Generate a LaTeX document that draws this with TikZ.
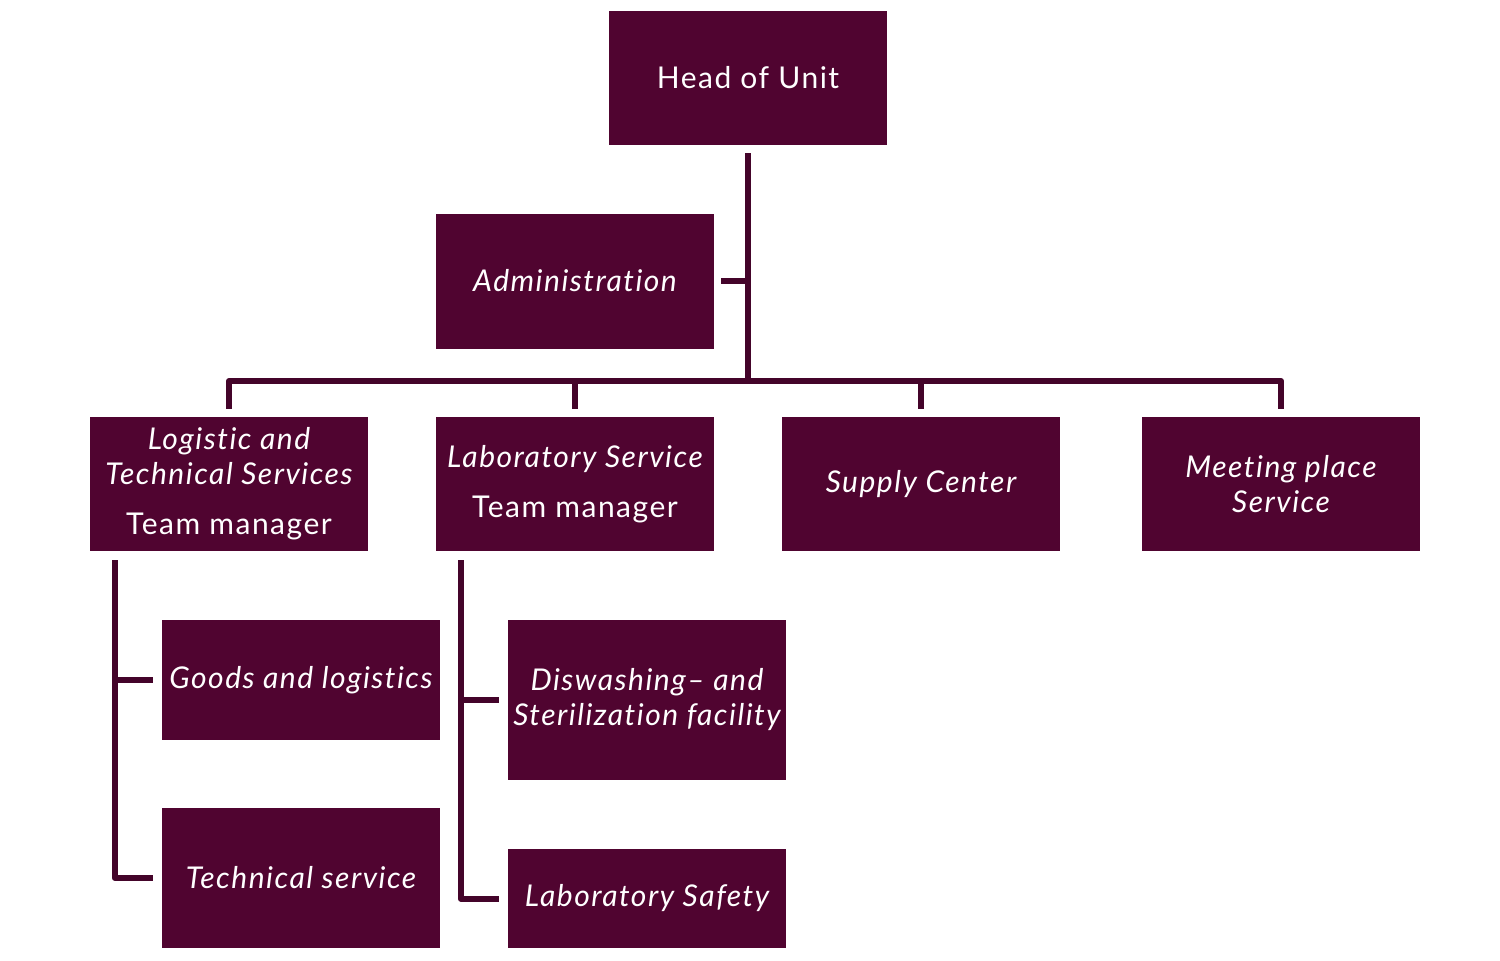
\documentclass[tikz,border=0pt]{standalone}
\usepackage{fontspec}
\setmainfont{Lato}[LetterSpace=5, Ligatures={NoCommon}]
\definecolor{boxc}{HTML}{500430}
\definecolor{linec}{HTML}{44042A}
\tikzset{
  unitbox/.style={fill=boxc, draw=none, text=white, inner sep=0pt, minimum width=278pt, align=center,
    font=\fontsize{30}{35}\selectfont},
  conn/.style={draw=linec, line width=6pt, line join=round, line cap=butt}
}
\begin{document}
\begin{tikzpicture}[x=1pt,y=-1pt]
\useasboundingbox[fill=white] (0,0) rectangle (1500,961);
% boxes
\node[unitbox, minimum height=134pt] (head) at (748,78) {Head of Unit};
\node[unitbox, minimum height=135pt] (admin) at (575,281) {\itshape Administration};
\node[unitbox, minimum height=134pt] (log) at (229,484) {\itshape Logistic and\\ \itshape Technical Services\\[15pt] Team manager};
\node[unitbox, minimum height=134pt] (lab) at (575,484) {\itshape Laboratory Service\\[15pt] Team manager};
\node[unitbox, minimum height=134pt] (sup) at (921,484) {\itshape Supply Center};
\node[unitbox, minimum height=134pt] (meet) at (1281,484) {\itshape Meeting place\\ \itshape Service};
\node[unitbox, minimum height=120pt] (goods) at (301,680) {\itshape Goods and logistics};
\node[unitbox, minimum height=140pt] (tech) at (301,878) {\itshape Technical service};
\node[unitbox, minimum height=160pt] (dish) at (647,700) {\itshape Diswashing-- and\\ \itshape Sterilization facility};
\node[unitbox, minimum height=99pt] (safe) at (647,898.5) {\itshape Laboratory Safety};
% connectors
\coordinate (bar) at (748,381);
\draw[conn] ([yshift=-8pt]head.south) -- (head.south |- bar);
\draw[conn] ([xshift=7pt]admin.east) -- (admin.east -| head.south);
\draw[conn] ([yshift=8pt]log.north) -- (log.north |- bar) -- (meet.north |- bar) -- ([yshift=8pt]meet.north);
\draw[conn] (lab.north |- bar) -- ([yshift=8pt]lab.north);
\draw[conn] (sup.north |- bar) -- ([yshift=8pt]sup.north);
\coordinate (l1) at ([xshift=25pt,yshift=-9pt]log.south west);
\draw[conn] (l1) |- ([xshift=-9pt]tech.west);
\draw[conn] (l1 |- goods.west) -- ([xshift=-9pt]goods.west);
\coordinate (l2) at ([xshift=25pt,yshift=-9pt]lab.south west);
\draw[conn] (l2) |- ([xshift=-9pt]safe.west);
\draw[conn] (l2 |- dish.west) -- ([xshift=-9pt]dish.west);
\end{tikzpicture}
\end{document}
